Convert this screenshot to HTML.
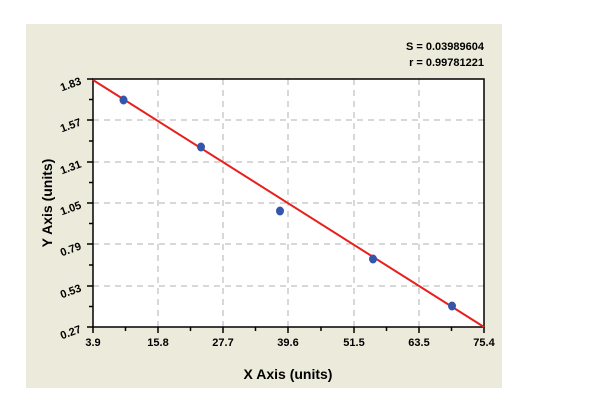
<!DOCTYPE html><html><head><style>body{margin:0;background:#fff}svg{display:block}text{font-family:"Liberation Sans",sans-serif;font-weight:bold}</style></head><body>
<svg width="600" height="405" viewBox="0 0 600 405">
<rect x="26" y="24" width="476" height="364" fill="#ecebdb"/>
<rect x="93" y="79" width="391" height="248" fill="#fff"/>
<g stroke="#b0b0b0" stroke-dasharray="6,5" stroke-width="1">
<line x1="158" y1="79" x2="158" y2="327"/><line x1="223" y1="79" x2="223" y2="327"/><line x1="288" y1="79" x2="288" y2="327"/><line x1="354" y1="79" x2="354" y2="327"/><line x1="419" y1="79" x2="419" y2="327"/>
<line x1="93" y1="120" x2="484" y2="120"/><line x1="93" y1="162" x2="484" y2="162"/><line x1="93" y1="203" x2="484" y2="203"/><line x1="93" y1="244" x2="484" y2="244"/><line x1="93" y1="286" x2="484" y2="286"/>
</g>
<rect x="93" y="79" width="391" height="248" fill="none" stroke="#000" stroke-width="1.5"/>
<g stroke="#000" stroke-width="1.5">
<path d="M93,327v6M125.5,327v4M158,327v6M190.5,327v4M223,327v6M255.5,327v4M288,327v6M321,327v4M354,327v6M386.5,327v4M419,327v6M451.5,327v4M484,327v6"/>
<path d="M93,79h-6M93,99.5h-4M93,120h-6M93,141h-4M93,162h-6M93,182.5h-4M93,203h-6M93,223.5h-4M93,244h-6M93,265h-4M93,286h-6M93,306.5h-4M93,327h-6"/>
</g>
<line x1="93" y1="80" x2="484" y2="327" stroke="#e8201c" stroke-width="2"/>
<g fill="#3355aa"><ellipse cx="123.5" cy="100" rx="4" ry="4.5"/><ellipse cx="201" cy="147" rx="4" ry="4.5"/><ellipse cx="280" cy="211" rx="4" ry="4.5"/><ellipse cx="373" cy="259" rx="4" ry="4.5"/><ellipse cx="452" cy="306" rx="4" ry="4.5"/></g>
<g font-size="11" text-anchor="middle">
<text x="93" y="346">3.9</text><text x="158" y="346">15.8</text><text x="223" y="346">27.7</text><text x="288" y="346">39.6</text><text x="354" y="346">51.5</text><text x="419" y="346">63.5</text><text x="484" y="346">75.4</text>
</g>
<g font-size="11" text-anchor="end">
<text transform="translate(82,84) rotate(-20)">1.83</text><text transform="translate(82,125) rotate(-20)">1.57</text><text transform="translate(82,167) rotate(-20)">1.31</text><text transform="translate(82,208) rotate(-20)">1.05</text><text transform="translate(82,249) rotate(-20)">0.79</text><text transform="translate(82,291) rotate(-20)">0.53</text><text transform="translate(82,332) rotate(-20)">0.27</text>
</g>
<text x="288" y="379" font-size="14" text-anchor="middle">X Axis (units)</text>
<text transform="translate(52,203) rotate(-90)" font-size="14" text-anchor="middle">Y Axis (units)</text>
<text x="484" y="50" font-size="11" text-anchor="end">S = 0.03989604</text>
<text x="484" y="66" font-size="11" text-anchor="end">r = 0.99781221</text>
</svg></body></html>
